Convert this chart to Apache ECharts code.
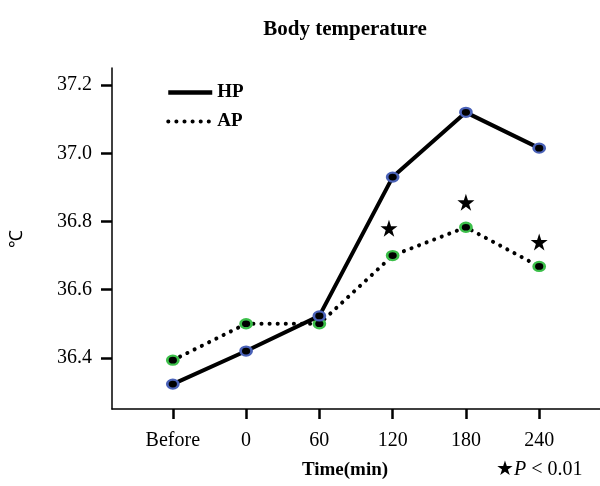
<!DOCTYPE html>
<html>
<head>
<meta charset="utf-8">
<script src="https://cdn.jsdelivr.net/npm/echarts@6/dist/echarts.min.js"></script>
<style>
  html, body { margin: 0; padding: 0; background: #fff; }
  #chart { width: 600px; height: 486px; }
</style>
</head>
<body>
<div id="chart"></div>
<script>
// 时间点
var categories = ['Before', '0', '60', '120', '180', '240'];
// HP 组体温
var hpValues = [36.323, 36.42, 36.523, 36.93, 37.12, 37.015];
// AP 组体温
var apValues = [36.393, 36.5, 36.5, 36.70, 36.783, 36.668];
// 显著性星号 [类别索引, 值]
var starIndex = [2.95, 4, 5];
var starValues = [36.78, 36.856, 36.74];
var yTicks = [36.4, 36.6, 36.8, 37.0, 37.2];

var serif = "'Liberation Serif', 'Times New Roman', serif";
var starPath = 'path://M50,0 L61.8,35.1 L98.8,35.1 L68.9,57 L80.2,92 L50,70.3 L19.8,92 L31.1,57 L1.2,35.1 L38.2,35.1 Z';

function pairs(vals) {
    return vals.map(function (v, i) { return [i, v]; });
}

var myChart = echarts.init(document.getElementById('chart'));
var option = {
    animation: false,
    title: {
        text: 'Body temperature',
        left: 340,
        textAlign: 'center',
        top: 14,
        textStyle: { fontFamily: serif, fontSize: 21, fontWeight: 'bold', color: '#000' }
    },
    legend: {
        orient: 'vertical',
        left: 161,
        top: 78,
        itemGap: 10,
        itemWidth: 44,
        itemHeight: 20,
        itemStyle: { opacity: 0 },
        textStyle: { fontFamily: serif, fontSize: 19, fontWeight: 'bold', color: '#000' },
        data: [
            { name: 'HP', lineStyle: { color: '#000', width: 4.5 } },
            { name: 'AP', lineStyle: { color: '#000', width: 4, type: [0.1, 8], cap: 'round' } }
        ]
    },
    grid: { left: 112, top: 68, right: 0, height: 341, outerBoundsMode: 'none', containLabel: false },
    xAxis: {
        type: 'value',
        min: -0.83,
        max: 5.83,
        name: 'Time(min)',
        nameLocation: 'middle',
        nameGap: 52,
        nameTextStyle: { fontFamily: serif, fontSize: 19, fontWeight: 'bold', color: '#000', padding: [0, 22, 0, 0] },
        axisLine: { show: true, onZero: false, lineStyle: { color: '#000', width: 1.5 } },
        axisTick: { show: true, length: 10, lineStyle: { color: '#000', width: 2.5 }, customValues: [0, 1, 2, 3, 4, 5] },
        axisLabel: {
            customValues: [0, 1, 2, 3, 4, 5],
            margin: 22,
            fontFamily: serif, fontSize: 20, color: '#000',
            formatter: function (v) { return categories[Math.round(v)]; }
        },
        splitLine: { show: false }
    },
    yAxis: {
        type: 'value',
        min: 36.25,
        max: 37.25,
        name: '℃',
        nameLocation: 'middle',
        nameRotate: 90,
        nameGap: 86,
        nameTextStyle: { fontFamily: serif, fontSize: 18, color: '#000' },
        axisLine: { show: true, onZero: false, lineStyle: { color: '#000', width: 1.5 } },
        axisTick: { show: true, length: 11, lineStyle: { color: '#000', width: 2.5 }, customValues: yTicks },
        axisLabel: {
            customValues: yTicks,
            margin: 20,
            fontFamily: serif, fontSize: 20, color: '#000',
            formatter: function (v) { return v.toFixed(1); }
        },
        splitLine: { show: false }
    },
    series: [
        {
            name: 'HP',
            type: 'line',
            data: pairs(hpValues),
            symbol: 'circle',
            symbolSize: [11, 9],
            lineStyle: { color: '#000', width: 4 },
            itemStyle: { color: '#000', borderColor: '#4a62b8', borderWidth: 2.5 },
            z: 3
        },
        {
            name: 'AP',
            type: 'line',
            data: pairs(apValues),
            symbol: 'circle',
            symbolSize: [11, 9],
            lineStyle: { color: '#000', width: 4, type: [0.1, 8], cap: 'round' },
            itemStyle: { color: '#000', borderColor: '#3cbf4a', borderWidth: 2.5 },
            z: 2
        },
        {
            name: 'star',
            type: 'scatter',
            data: starIndex.map(function (x, i) { return [x, starValues[i]]; }),
            symbol: starPath,
            symbolSize: 17,
            itemStyle: { color: '#000', opacity: 1 }
        }
    ],
    graphic: [
        {
            type: 'text',
            left: 496,
            top: 460,
            style: {
                text: '{s|★}{p|P} < 0.01',
                font: '20px ' + serif,
                fill: '#000',
                rich: {
                    s: { fontSize: 20, fontFamily: serif, fill: '#000' },
                    p: { fontSize: 20, fontFamily: serif, fontStyle: 'italic', fill: '#000' }
                }
            }
        }
    ]
};
myChart.setOption(option);
</script>
</body>
</html>
